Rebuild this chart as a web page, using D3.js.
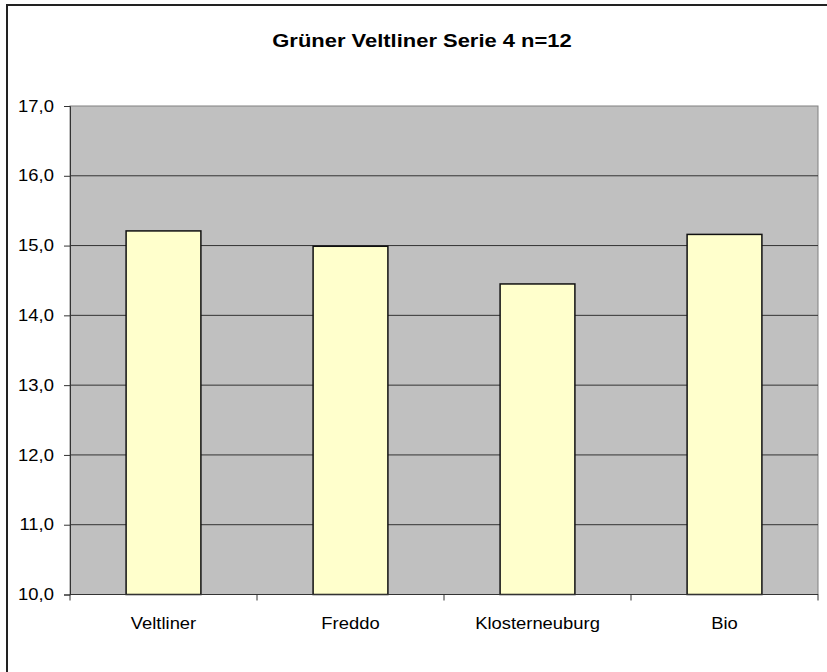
<!DOCTYPE html>
<html>
<head>
<meta charset="utf-8">
<script src="https://cdn.jsdelivr.net/npm/d3@7"></script>
<style>
  body { margin: 0; background: #fff; }
  svg text { font-family: Arial, "Liberation Sans", sans-serif; fill: #000; }
</style>
</head>
<body>
<svg id="chart" width="827" height="672"></svg>
<script>
// chart data
var categories = ["Veltliner", "Freddo", "Klosterneuburg", "Bio"];
var values = [15.21, 14.99, 14.45, 15.16];
var yTicks = [10, 11, 12, 13, 14, 15, 16, 17];
var title = "Grüner Veltliner Serie 4 n=12";

var margin = {top: 106, right: 9, bottom: 77.5, left: 70},
    width = 827 - margin.left - margin.right,
    height = 672 - margin.top - margin.bottom;

var svg = d3.select("#chart");

// outer chart frame (runs off the right/bottom edge like the picture)
svg.append("rect")
    .attr("x", 7).attr("y", 5)
    .attr("width", 840).attr("height", 700)
    .attr("fill", "#fff")
    .attr("stroke", "#222")
    .attr("stroke-width", 2);

// title
svg.append("text")
    .attr("transform", "translate(422,47) scale(1.22,1)")
    .attr("text-anchor", "middle")
    .style("font-size", "18px")
    .style("font-weight", "bold")
    .text(title);

var g = svg.append("g")
    .attr("transform", "translate(" + margin.left + "," + margin.top + ")");

var x = d3.scaleBand()
    .domain(categories)
    .range([0, width])
    .paddingInner(0.6)
    .paddingOuter(0.3);

var y = d3.scaleLinear()
    .domain([10, 17])
    .range([height, 0]);

// plot area
g.append("rect")
    .attr("width", width)
    .attr("height", height)
    .attr("fill", "#c0c0c0")
    .attr("stroke", "#808080");

// gridlines
g.selectAll(".grid")
    .data(yTicks.slice(1, -1))
    .enter().append("line")
    .attr("x1", 0).attr("x2", width)
    .attr("y1", function(d) { return y(d); })
    .attr("y2", function(d) { return y(d); })
    .attr("stroke", "#333")
    .attr("stroke-width", 1);

// bars
g.selectAll(".bar")
    .data(values)
    .enter().append("rect")
    .attr("x", function(d, i) { return x(categories[i]); })
    .attr("width", x.bandwidth())
    .attr("y", function(d) { return y(d); })
    .attr("height", function(d) { return height - y(d); })
    .attr("fill", "#ffffcc")
    .attr("stroke", "#111")
    .attr("stroke-width", 1.5);

// y axis
var yAxis = g.append("g")
    .call(d3.axisLeft(y)
        .tickValues(yTicks)
        .tickSize(6)
        .tickPadding(10)
        .tickFormat(function(d) { return d3.format(".1f")(d).replace(".", ","); }));
yAxis.select(".domain").attr("stroke", "#333");
yAxis.selectAll(".tick line").attr("stroke", "#333");
yAxis.selectAll("text")
    .style("font-size", "16px")
    .attr("transform", "scale(1.15,1)")
    .attr("x", -14);

// x axis, ticks sit between categories
var step = x.step();
var xAxis = g.append("g")
    .attr("transform", "translate(0," + height + ")");
xAxis.append("line")
    .attr("x1", 0).attr("x2", width)
    .attr("stroke", "#333");
xAxis.selectAll(".xtick")
    .data(d3.range(categories.length + 1))
    .enter().append("line")
    .attr("x1", function(i) { return i * step; })
    .attr("x2", function(i) { return i * step; })
    .attr("y1", 0).attr("y2", 6)
    .attr("stroke", "#333");
xAxis.selectAll(".xlabel")
    .data(categories)
    .enter().append("text")
    .attr("transform", function(d) { return "translate(" + (x(d) + x.bandwidth() / 2) + ",34) scale(1.15,1)"; })
    .attr("text-anchor", "middle")
    .style("font-size", "16px")
    .text(function(d) { return d; });
</script>
</body>
</html>
